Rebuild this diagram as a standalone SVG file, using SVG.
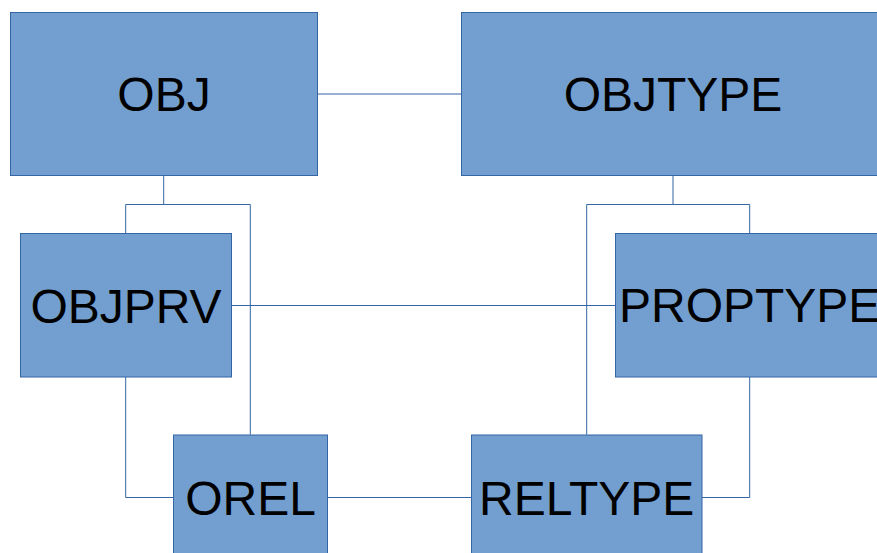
<svg xmlns="http://www.w3.org/2000/svg" width="877" height="553" viewBox="0 0 877 553">
<style>
.box{fill:#729fcf;stroke:#3465a4;stroke-width:1}
.lbl{font-family:"Liberation Sans",Arial,sans-serif;font-size:48px;fill:#000;text-anchor:middle}
.conn{fill:none;stroke:#3465a4;stroke-width:1}
</style>
<rect width="877" height="553" fill="#fff"/>
<g id="connectors">
<path class="conn" d="M318 94H461.3"/>
<path class="conn" d="M163.7 175.5V204.5M125.7 233V204.5H250.3V434.7"/>
<path class="conn" d="M673 175.5V204.5M586.7 434.7V204.5H749.7V233"/>
<path class="conn" d="M231.7 305.5H615.3"/>
<path class="conn" d="M125.7 377V497.5H173.3"/>
<path class="conn" d="M327.7 497.5H471.3"/>
<path class="conn" d="M702 497.5H749.7V377"/>
</g>
<g id="OBJ"><rect class="box" x="10.5" y="12.5" width="307" height="163"/><text class="lbl" x="164" y="111">OBJ</text></g>
<g id="OBJTYPE"><rect class="box" x="461.5" y="12.5" width="423" height="163"/><text class="lbl" x="673" y="111">OBJTYPE</text></g>
<g id="OBJPRV"><rect class="box" x="20.5" y="233.5" width="211" height="143.5"/><text class="lbl" x="126" y="322.5">OBJPRV</text></g>
<g id="PROPTYPE"><rect class="box" x="615.5" y="233.5" width="268.5" height="143.5"/><text class="lbl" x="749.7" y="322">PROPTYPE</text></g>
<g id="OREL"><rect class="box" x="173.5" y="435" width="154" height="125"/><text class="lbl" x="250.5" y="514.5">OREL</text></g>
<g id="RELTYPE"><rect class="box" x="471.5" y="435" width="230.5" height="125"/><text class="lbl" x="586.7" y="514.5">RELTYPE</text></g>
</svg>
